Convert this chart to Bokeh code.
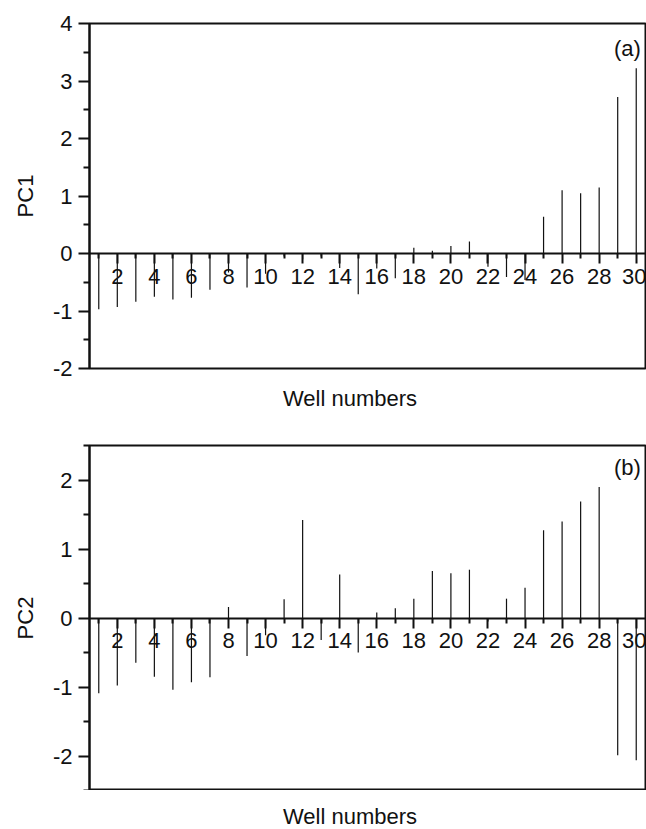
from bokeh.plotting import figure
from bokeh.layouts import column
from bokeh.models import FixedTicker, Label, Div
from bokeh.embed import file_html
from bokeh.resources import INLINE

# Principal component scores per well
wells = list(range(1, 31))
pc1 = [-0.97, -0.93, -0.84, -0.75, -0.80, -0.77, -0.63, -0.33, -0.59, -0.35,
       -0.05, -0.10, -0.05, -0.25, -0.71, -0.26, -0.43, 0.10, 0.05, 0.13,
       0.21, -0.23, -0.41, -0.46, 0.64, 1.10, 1.05, 1.15, 2.72, 3.22]
pc2 = [-1.09, -0.98, -0.65, -0.85, -1.04, -0.93, -0.86, 0.16, -0.55, -0.25,
       0.27, 1.42, -0.32, 0.63, -0.50, 0.08, 0.14, 0.28, 0.68, 0.65,
       0.70, -0.05, 0.28, 0.44, 1.27, 1.40, 1.69, 1.90, -1.99, -2.06]

x_major = list(range(2, 31, 2))
x_minor = list(range(1, 30, 2))

pc1_ticks = [-2, -1, 0, 1, 2, 3, 4]
pc1_minor = [-1.5, -0.5, 0.5, 1.5, 2.5, 3.5]
pc2_ticks = [-2, -1, 0, 1, 2]
pc2_minor = [-2.5, -1.5, -0.5, 0.5, 1.5, 2.5]

FONT = "Liberation Sans"
INK = "#111111"


def panel(values, yr, yticks, yminor, ylabel, tag, tag_y, height, border_bottom):
    p = figure(width=646, height=height, x_range=(0.5, 30.5), y_range=yr,
               output_backend="svg", toolbar_location=None,
               min_border_left=89, min_border_right=1, min_border_top=23,
               min_border_bottom=border_bottom)
    p.grid.visible = False
    p.outline_line_color = INK
    p.outline_line_width = 2
    p.outline_line_alpha = 1

    # stems from the zero line
    p.segment(x0=wells, y0=[0] * len(wells), x1=wells, y1=values,
              line_color=INK, line_width=1.2)

    # horizontal axis drawn through y = 0
    xa = p.xaxis[0]
    xa.fixed_location = 0
    xa.ticker = FixedTicker(ticks=x_major, minor_ticks=x_minor)
    xa.axis_line_color = INK
    xa.axis_line_width = 2
    xa.major_tick_in = 0
    xa.major_tick_out = 10
    xa.minor_tick_in = 0
    xa.minor_tick_out = 5
    xa.major_tick_line_width = 2
    xa.minor_tick_line_width = 2
    xa.major_tick_line_color = INK
    xa.minor_tick_line_color = INK
    xa.major_label_text_font = FONT
    xa.major_label_text_font_size = "22px"
    xa.major_label_text_color = INK
    xa.major_label_standoff = 5

    ya = p.yaxis[0]
    ya.ticker = FixedTicker(ticks=yticks, minor_ticks=yminor)
    ya.major_label_overrides = {t: str(t) for t in yticks}
    ya.axis_line_color = INK
    ya.axis_line_width = 2
    ya.major_tick_in = 0
    ya.major_tick_out = 11
    ya.minor_tick_in = 0
    ya.minor_tick_out = 6
    ya.major_tick_line_width = 2
    ya.minor_tick_line_width = 2
    ya.major_tick_line_color = INK
    ya.minor_tick_line_color = INK
    ya.major_label_text_font = FONT
    ya.major_label_text_font_size = "22px"
    ya.major_label_text_color = INK
    ya.major_label_standoff = 6
    ya.axis_label = ylabel
    ya.axis_label_text_font = FONT
    ya.axis_label_text_font_size = "22px"
    ya.axis_label_text_font_style = "normal"
    ya.axis_label_text_color = INK
    ya.axis_label_standoff = 12

    p.add_layout(Label(x=30.25, y=tag_y, text=tag, text_align="right",
                       text_baseline="middle", text_font=FONT,
                       text_font_size="22px", text_color=INK))
    return p


def caption(height, line_height):
    return Div(text="Well numbers", width=646, height=height, margin=0,
               styles={"font-family": FONT, "font-size": "22px",
                       "line-height": f"{line_height}px", "color": INK,
                       "text-indent": "283px", "overflow": "hidden",
                       "white-space": "nowrap"})


p1 = panel(pc1, (-2, 4), pc1_ticks, pc1_minor, "PC1", "(a)", 3.56, 380, 12)
p2 = panel(pc2, (-2.5, 2.5), pc2_ticks, pc2_minor, "PC2", "(b)", 2.18, 368, 0)

layout = column(p1, caption(42, 38), p2, caption(39, 53), spacing=0)
open("out.html", "w").write(file_html(layout, INLINE))
